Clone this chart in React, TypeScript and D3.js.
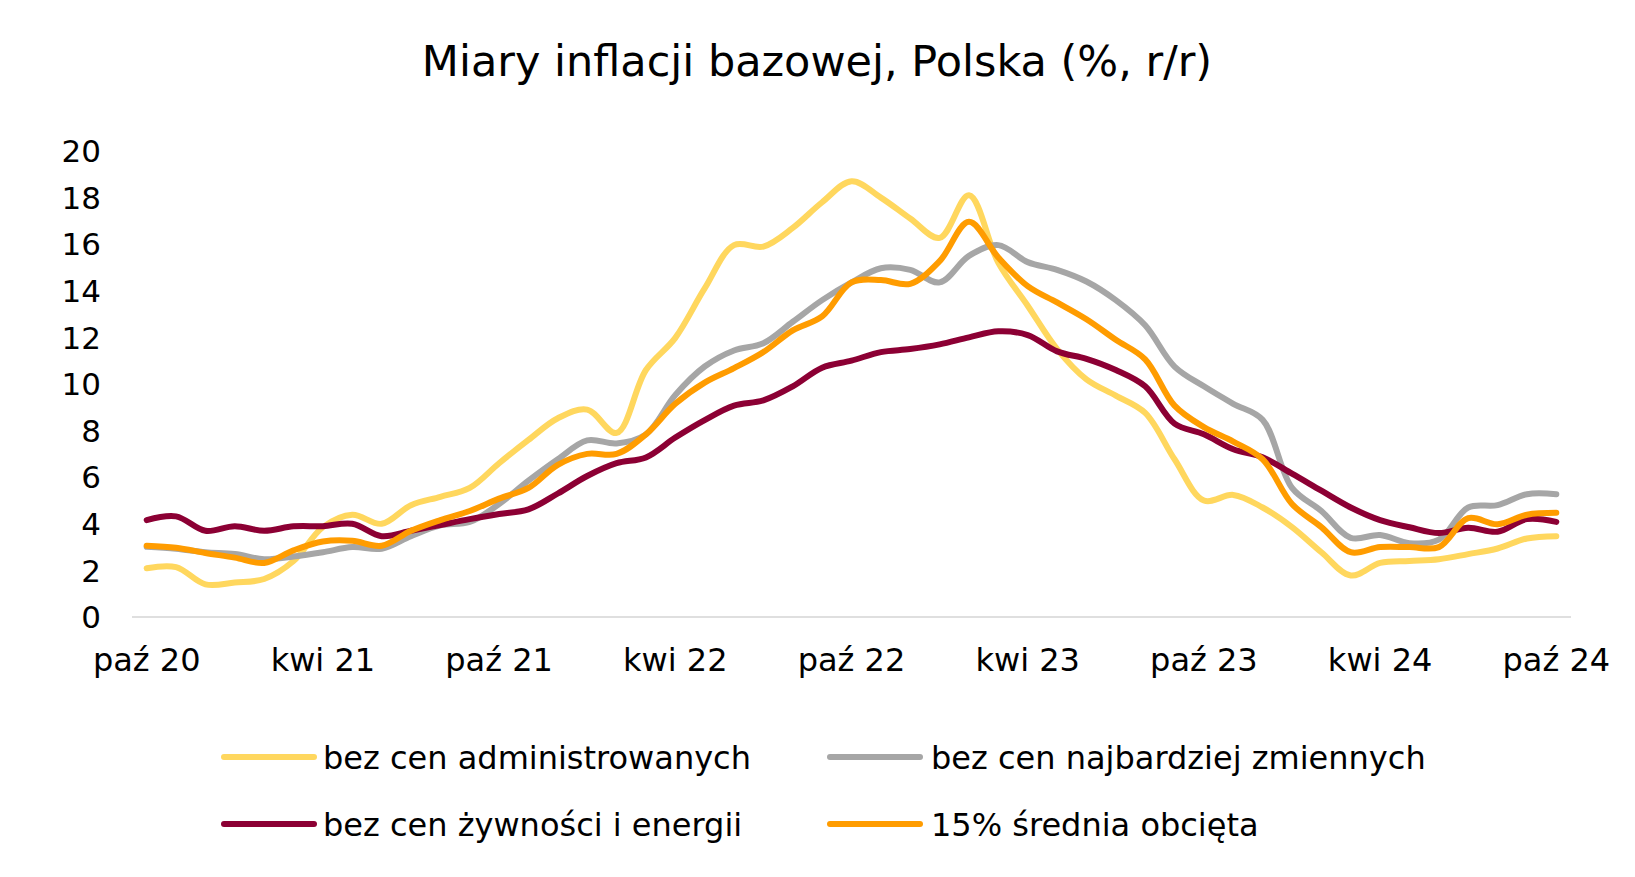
import React from "react";
import * as d3 from "d3";

const months = [
  "paź 20","lis 20","gru 20","sty 21","lut 21","mar 21","kwi 21","maj 21","cze 21","lip 21","sie 21","wrz 21",
  "paź 21","lis 21","gru 21","sty 22","lut 22","mar 22","kwi 22","maj 22","cze 22","lip 22","sie 22","wrz 22",
  "paź 22","lis 22","gru 22","sty 23","lut 23","mar 23","kwi 23","maj 23","cze 23","lip 23","sie 23","wrz 23",
  "paź 23","lis 23","gru 23","sty 24","lut 24","mar 24","kwi 24","maj 24","cze 24","lip 24","sie 24","wrz 24",
  "paź 24"
];

const bezAdministrowanych = [
  2.09, 2.14, 1.4, 1.48, 1.63, 2.4, 3.86, 4.39, 4.0, 4.8, 5.16, 5.54,
  6.6, 7.6, 8.53, 8.9, 7.9, 10.6, 11.98, 14.1, 15.96, 15.9, 16.7, 17.8,
  18.7, 18.0, 17.1, 16.27, 18.1, 15.2, 13.36, 11.5, 10.2, 9.5, 8.76, 6.77,
  5.0, 5.24, 4.7, 3.86, 2.78, 1.78, 2.32, 2.4, 2.48, 2.7, 2.94, 3.37,
  3.47
];

const bezNajbardziejZmiennych = [
  3.01, 2.93, 2.78, 2.7, 2.48, 2.6, 2.78, 3.0, 2.93, 3.47, 3.93, 4.08,
  4.85, 5.85, 6.77, 7.58, 7.45, 7.84, 9.53, 10.75, 11.44, 11.75, 12.67, 13.6,
  14.36, 14.97, 14.9, 14.36, 15.5, 15.96, 15.23, 14.9, 14.4, 13.6, 12.52, 10.75,
  9.9, 9.15, 8.46, 5.54, 4.55, 3.4, 3.52, 3.17, 3.32, 4.7, 4.8, 5.27,
  5.27
];

const bezZywnosciIEnergii = [
  4.16, 4.32, 3.7, 3.9, 3.7, 3.89, 3.9, 4.0, 3.47, 3.7, 3.95, 4.2,
  4.42, 4.62, 5.3, 6.05, 6.6, 6.85, 7.7, 8.45, 9.07, 9.3, 9.9, 10.7,
  11.0, 11.37, 11.5, 11.7, 12.0, 12.26, 12.1, 11.4, 11.08, 10.6, 9.9, 8.3,
  7.84, 7.2, 6.85, 6.15, 5.42, 4.7, 4.16, 3.85, 3.6, 3.83, 3.66, 4.2,
  4.08
];

const sredniaObcieta15 = [
  3.06, 2.97, 2.75, 2.55, 2.32, 2.86, 3.24, 3.27, 3.06, 3.7, 4.16, 4.55,
  5.08, 5.54, 6.53, 7.0, 7.0, 7.84, 9.15, 10.06, 10.68, 11.37, 12.3, 12.9,
  14.36, 14.46, 14.3, 15.27, 16.96, 15.43, 14.2, 13.5, 12.78, 11.9, 11.06, 9.07,
  8.15, 7.53, 6.77, 4.85, 3.86, 2.78, 3.0, 3.0, 3.0, 4.24, 3.98, 4.39,
  4.47
];

const xTickLabels = ["paź 20", "kwi 21", "paź 21", "kwi 22", "paź 22", "kwi 23", "paź 23", "kwi 24", "paź 24"];
const yTicks = [0, 2, 4, 6, 8, 10, 12, 14, 16, 18, 20];

const seriesNames = [
  "bez cen administrowanych",
  "bez cen najbardziej zmiennych",
  "bez cen żywności i energii",
  "15% średnia obcięta",
];
const seriesValues = [bezAdministrowanych, bezNajbardziejZmiennych, bezZywnosciIEnergii, sredniaObcieta15];
const seriesColors = ["#FFD75E", "#A6A6A6", "#8C0034", "#FF9C00"];

const title = "Miary inflacji bazowej, Polska (%, r/r)";

const W = 1635;
const H = 877;
const FONT = "'DejaVu Sans', Verdana, sans-serif";

export default function App() {
  const x = d3.scalePoint<string>().domain(months).range([132, 1571]).padding(0.5);
  const y = d3.scaleLinear().domain([0, 20]).range([617, 151]);

  const line = d3
    .line<number>()
    .x((_, i) => x(months[i]) as number)
    .y((d) => y(d))
    .curve(d3.curveCatmullRom.alpha(0.5));

  const legendPos = [
    { sx: 224, tx: 323, cy: 757 },
    { sx: 830, tx: 931, cy: 757 },
    { sx: 224, tx: 323, cy: 824 },
    { sx: 830, tx: 931, cy: 824 },
  ];

  return (
    <svg
      width={W}
      height={H}
      viewBox={`0 0 ${W} ${H}`}
      style={{ position: "absolute", left: 0, top: 0, background: "#fff" }}
      fontFamily={FONT}
    >
      <rect x={0} y={0} width={W} height={H} fill="#fff" />
      <text x={817} y={76} textAnchor="middle" fontSize={43} fill="#000">
        {title}
      </text>

      {yTicks.map((t) => (
        <text key={t} x={101} y={y(t)} dy="0.36em" textAnchor="end" fontSize={31} fill="#000">
          {t}
        </text>
      ))}

      <line x1={132} x2={1571} y1={y(0)} y2={y(0)} stroke="#BFBFBF" strokeWidth={1} />

      {xTickLabels.map((m) => (
        <text key={m} x={x(m) as number} y={671} textAnchor="middle" fontSize={32} fill="#000">
          {m}
        </text>
      ))}

      {seriesValues.map((vals, si) => (
        <path
          key={si}
          d={line(vals) || ""}
          fill="none"
          stroke={seriesColors[si]}
          strokeWidth={6}
          strokeLinejoin="round"
          strokeLinecap="round"
        />
      ))}

      {seriesNames.map((n, i) => (
        <g key={n}>
          <line
            x1={legendPos[i].sx}
            x2={legendPos[i].sx + 90}
            y1={legendPos[i].cy}
            y2={legendPos[i].cy}
            stroke={seriesColors[i]}
            strokeWidth={6}
            strokeLinecap="round"
          />
          <text x={legendPos[i].tx} y={legendPos[i].cy} dy="0.36em" fontSize={32} fill="#000">
            {n}
          </text>
        </g>
      ))}
    </svg>
  );
}
